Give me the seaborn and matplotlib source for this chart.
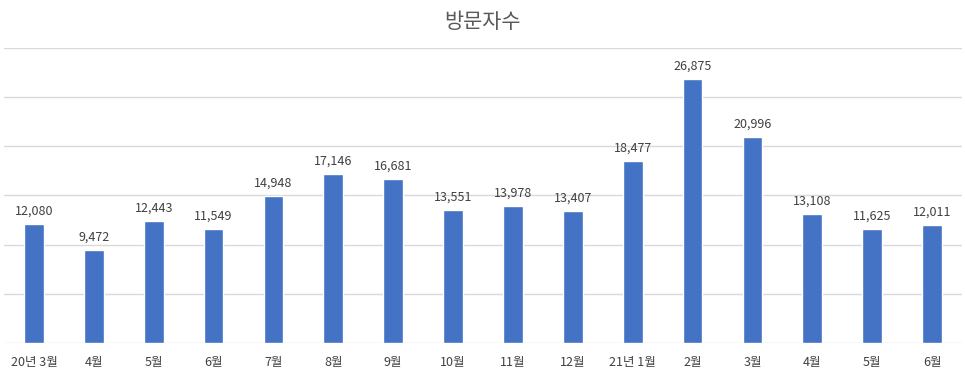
import numpy as np
import pandas as pd
import seaborn as sns
from matplotlib import pyplot as plt

sns.set_style("white")
plt.rcParams['font.family'] = ['Noto Sans CJK KR', 'DejaVu Sans']

months = ["20년 3월", "4월", "5월", "6월", "7월", "8월", "9월", "10월",
          "11월", "12월", "21년 1월", "2월", "3월", "4월", "5월", "6월"]
visitors = [12080, 9472, 12443, 11549, 14948, 17146, 16681, 13551,
            13978, 13407, 18477, 26875, 20996, 13108, 11625, 12011]

df = pd.DataFrame({"idx": range(len(months)), "visitors": visitors})

fig = plt.figure(figsize=(9.65, 3.72), dpi=100)
ax = fig.add_axes([4/965, 29/372, 958/965, 295/372])

sns.barplot(data=df, x="idx", y="visitors", color="#4472C4", width=0.33,
            saturation=1, ax=ax, zorder=3)

ax.set_ylim(0, 30000)
ax.set_yticks(np.arange(0, 30001, 5000))
ax.yaxis.grid(True, color="#D9D9D9", linewidth=1, zorder=0)
ax.set_axisbelow(True)
ax.tick_params(axis="y", left=False, labelleft=False)
ax.tick_params(axis="x", bottom=False, labelsize=9, colors="#404040", pad=6)
ax.set_xticks(range(len(months)))
ax.set_xticklabels(months)
ax.set_xlabel("")
ax.set_ylabel("")
for s in ax.spines.values():
    s.set_visible(False)

for i, v in enumerate(visitors):
    ax.text(i, v + 650, f"{v:,}", ha="center", va="bottom", fontsize=9, color="#404040")

fig.text(0.5, 0.942, "방문자수", ha="center", va="center", fontsize=15, color="#595959")

fig.savefig("out.png", dpi=100)
